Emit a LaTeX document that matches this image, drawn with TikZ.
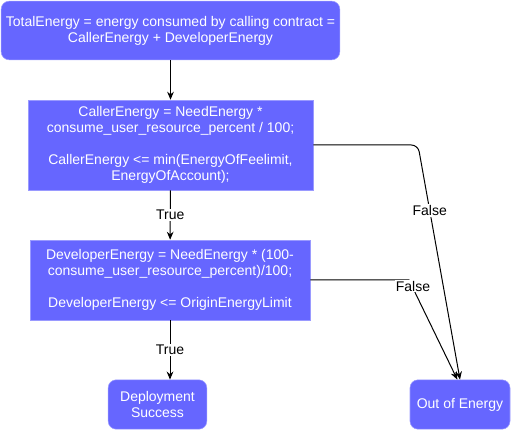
\documentclass[tikz,border=0pt]{standalone}
\usepackage{fontspec}
\setmainfont{Liberation Sans}
\usetikzlibrary{shapes, arrows.meta}
\definecolor{boxfill}{HTML}{6666FF}
\definecolor{boxline}{HTML}{9A9AFF}
\tikzstyle{startstop} = [rectangle, rounded corners=6pt, inner sep=1pt, align=center, draw=boxline, fill=boxfill, text=white, font=\fontsize{10.5}{12}\selectfont]
\tikzstyle{statement} = [rectangle, inner sep=1pt, align=center, draw=boxline, fill=boxfill, text=white, font=\fontsize{10.5}{12}\selectfont]
\tikzstyle{branch} = [fill=white, inner sep=1pt, text=black, font=\fontsize{10.5}{12}\selectfont]
\tikzstyle{edge} = [line width=0.75pt, ->, >={Stealth[length=6pt, width=5pt]}]

\begin{document}
\begin{tikzpicture}[x=0.75pt, y=-0.75pt]

\useasboundingbox (0,0) rectangle (511,431);

\node (0) [startstop, minimum width=254pt, minimum height=44pt] at (170.5,30.5) {TotalEnergy = energy consumed by calling contract =\\CallerEnergy + DeveloperEnergy};
\node (1) [statement, minimum width=214pt, minimum height=67.5pt] at (170.5,145) {CallerEnergy = NeedEnergy *\\consume\_user\_resource\_percent / 100;\\[12pt]CallerEnergy <= min(EnergyOfFeelimit,\\EnergyOfAccount);};
\node (2) [statement, minimum width=210pt, minimum height=60pt] at (170,280) {DeveloperEnergy = NeedEnergy * (100-\\consume\_user\_resource\_percent)/100;\\[12pt]DeveloperEnergy <= OriginEnergyLimit};
\node (3) [startstop, minimum width=74pt, minimum height=37pt] at (157.5,404.5) {Deployment\\Success};
\node (4) [startstop, minimum width=75pt, minimum height=37pt] at (460,404.5) {Out of Energy};

\coordinate (a1) at (418,145);
\coordinate (b1) at (409,280);

\draw [edge] (0) -- (1);
\draw [edge] (1) -- node[branch]{True} (2);
\draw [edge] (2) -- node[branch]{True} (2.south |- 3.north);
\draw [edge, rounded corners=5pt] (1.east) -- (a1) -- node[branch, pos=0.28]{False} (4.north);
\draw [edge] (2.east) -- (b1) -- node[branch, pos=0, xshift=3pt, yshift=-4.5pt]{False} ([xshift=-2pt]4.north);

\end{tikzpicture}
\end{document}
